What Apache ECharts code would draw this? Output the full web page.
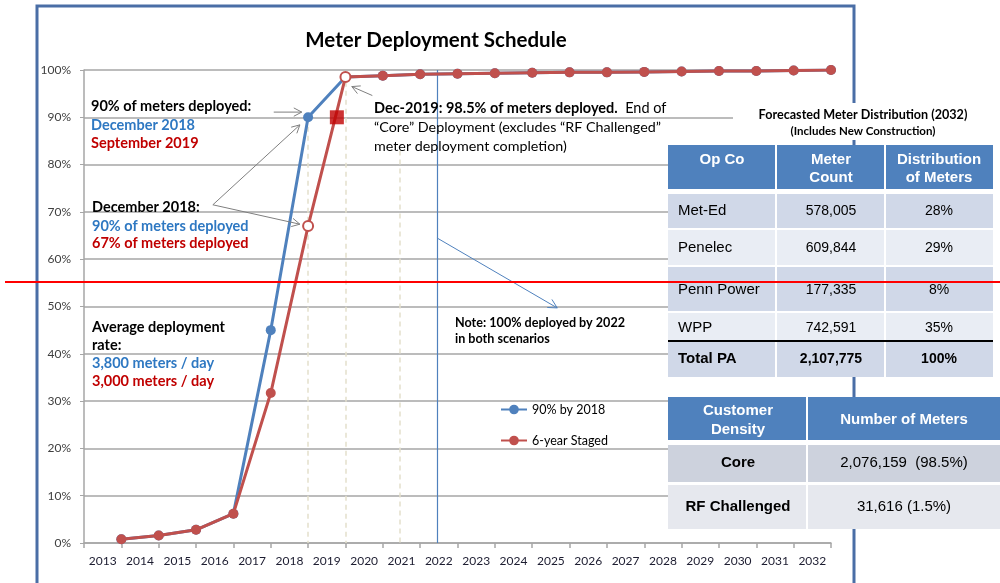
<!DOCTYPE html>
<html><head><meta charset="utf-8">
<script src="https://cdn.jsdelivr.net/npm/echarts@6/dist/echarts.min.js"></script>
<style>html,body{margin:0;padding:0;background:#fff}#c{width:1000px;height:583px}</style>
</head><body><div id="c"></div>
<script>
// ---------- data ----------
const yearLabels = ['2013','2014','2015','2016','2017','2018','2019','2020','2021','2022','2023','2024','2025','2026','2027','2028','2029','2030','2031','2032'];
const pointYears = [2013,2014,2015,2016,2017,2018,2019,2020,2021,2022,2023,2024,2025,2026,2027,2028,2029,2030,2031,2032]; // year-end points
const fast90by2018 = [0.8,1.6,2.8,6.2,45,90,98.5,98.8,99.1,99.2,99.3,99.4,99.5,99.5,99.6,99.7,99.8,99.8,99.9,100];
const staged6year  = [0.8,1.6,2.8,6.2,31.7,67,98.5,98.8,99.1,99.2,99.3,99.4,99.5,99.5,99.6,99.7,99.8,99.8,99.9,100];
const seriesNames = ['90% by 2018','6-year Staged'];
const hollowStagedIdx = [5,6];
const milestoneDate = 2019.77;  // September 2019
const milestoneValue = 90;
const yTickValues = [0,10,20,30,40,50,60,70,80,90,100];

const opCoHeaders = ['Op Co','Meter\nCount','Distribution\nof Meters'];
const opCos = ['Met-Ed','Penelec','Penn Power','WPP'];
const meterCounts = ['578,005','609,844','177,335','742,591'];
const meterShares = ['28%','29%','8%','35%'];
const totalRow = ['Total PA','2,107,775','100%'];
const densityHeaders = ['Customer\nDensity','Number of Meters'];
const densityNames = ['Core','RF Challenged'];
const densityValues = ['2,076,159  (98.5%)','31,616 (1.5%)'];

// ---------- helpers ----------
const BASE = 2013;
const toX = yr => yr - BASE;           // position on hidden value axis
const endOfYear = yr => toX(yr + 1);
const FONT = 'Lato, "Open Sans", sans-serif';
const TFONT = '"Liberation Sans", Arial, sans-serif';
const BLUE = '#4f81bd', RED = '#c0504d', TBLUE = '#2e78c2', TRED = '#c00000';

const chart = echarts.init(document.getElementById('c'), null, {renderer:'canvas'});

const blueData = pointYears.map((y,i)=>[endOfYear(y), fast90by2018[i]]);
const redData = pointYears.map((y,i)=>{
  const d = {value:[endOfYear(y), staged6year[i]]};
  if (hollowStagedIdx.includes(i)) d.itemStyle = {color:'#fff', borderColor:RED, borderWidth:2};
  return d;
});

const dashStyle = {color:'#e4dfcc', width:1.5, type:[5,4]};
chart.setOption({
  animation:false,
  grid:{left:84, right:169, top:70, bottom:40},
  xAxis:[
    {type:'category', data:yearLabels, boundaryGap:true,
     axisLine:{lineStyle:{color:'#a6a6a6', width:1.5}},
     axisTick:{show:true, length:5, interval:0, lineStyle:{color:'#a6a6a6', width:1.5}},
     axisLabel:{interval:0, margin:12, fontFamily:FONT, fontSize:12, color:'#1c1c30'},
     splitLine:{show:false}},
    {type:'value', min:0, max:20, show:false, position:'bottom'}
  ],
  yAxis:{type:'value', min:0, max:100, interval:10,
    axisLine:{show:true, lineStyle:{color:'#a6a6a6', width:1.5}},
    axisTick:{show:true, length:4, lineStyle:{color:'#a6a6a6'}},
    axisLabel:{formatter:v=>v+'%', margin:13, fontFamily:FONT, fontSize:12, color:'#404040'},
    splitLine:{lineStyle:{color:'#a6a6a6', width:1.5}}},
  legend:{data:seriesNames, orient:'vertical', left:500, top:403, padding:0, itemWidth:26, itemHeight:12, itemGap:18,
    textStyle:{fontFamily:FONT, fontSize:12.5, color:'#000'}},
  series:[
    {name:seriesNames[0], type:'line', xAxisIndex:1, data:blueData, symbol:'circle', symbolSize:10,
     lineStyle:{color:BLUE, width:3}, itemStyle:{color:BLUE}, z:3},
    {name:seriesNames[1], type:'line', xAxisIndex:1, data:redData, symbol:'circle', symbolSize:10,
     lineStyle:{color:RED, width:3}, itemStyle:{color:RED}, z:4},
    {name:'milestone', type:'scatter', xAxisIndex:1, data:[[toX(milestoneDate), milestoneValue]],
     symbol:'rect', symbolSize:14, itemStyle:{color:'#c00000'}, z:5,
     markLine:{silent:true, symbol:['none','none'], label:{show:false}, z:1,
       data:[
         [{coord:[endOfYear(2018),88], lineStyle:dashStyle},{coord:[endOfYear(2018),0]}],
         [{coord:[endOfYear(2019),97.5], lineStyle:dashStyle},{coord:[endOfYear(2019),0]}],
         [{coord:[toX(2021.45),83], lineStyle:dashStyle},{coord:[toX(2021.45),0]}],
         [{coord:[toX(2022.45),100], lineStyle:{color:BLUE, width:1.2, type:'solid'}},{coord:[toX(2022.45),0]}]
       ]}}
  ]
});

// ---------- annotations / tables ----------
const px = p => chart.convertToPixel({seriesIndex:0}, p);
const G = [];
function arrow(a, b, color, w, head, z) {
  const p0 = px(a), p1 = px(b);
  const dx=p1[0]-p0[0], dy=p1[1]-p0[1], L=Math.hypot(dx,dy), ux=dx/L, uy=dy/L;
  const an = Math.PI/6.5, c=Math.cos(an), s=Math.sin(an);
  const h1=[p1[0]-head*(ux*c-uy*s), p1[1]-head*(ux*s+uy*c)];
  const h2=[p1[0]-head*(ux*c+uy*s), p1[1]-head*(-ux*s+uy*c)];
  G.push({type:'polyline', shape:{points:[p0,p1]}, style:{stroke:color, lineWidth:w, fill:null}, z:z||50});
  G.push({type:'polyline', shape:{points:[h1,p1,h2]}, style:{stroke:color, lineWidth:w, fill:null}, z:z||50});
}
function txt(t, x, y, o) {
  o = o || {};
  G.push({type:'text', z:o.z||60, style:Object.assign({text:t, x:x, y:y, fill:o.color||'#000',
    fontFamily:o.family||FONT, fontSize:o.size||14, fontWeight:o.bold?'bold':'normal',
    align:o.align||'left', verticalAlign:'middle', textAlign:o.align||'left', textVerticalAlign:'middle'}, o.extra||{})});
}
function rect(x, y, w, h, fill, z, stroke, lw) {
  G.push({type:'rect', shape:{x:x, y:y, width:w, height:h}, z:z,
    style:{fill:fill, stroke:stroke||null, lineWidth:lw||0}});
}

// outer frame
G.push({type:'rect', shape:{x:37, y:6, width:817, height:620}, z:0, style:{fill:null, stroke:'#4a6ea6', lineWidth:3}});

// title
txt('Meter Deployment Schedule', 436, 40, {size:20.5, bold:true, align:'center'});

// left annotations
txt('90% of meters deployed:', 91, 106, {size:14.5, bold:true});
txt('December 2018', 91, 125, {size:14.5, bold:true, color:TBLUE});
txt('September 2019', 91, 143, {size:14.5, bold:true, color:TRED});
txt('December 2018:', 92, 207, {size:14.5, bold:true});
txt('90% of meters deployed', 92, 226, {size:14.5, bold:true, color:TBLUE});
txt('67% of meters deployed', 92, 243, {size:14.5, bold:true, color:TRED});
txt('Average deployment', 92, 327, {size:14.5, bold:true});
txt('rate:', 92, 345, {size:14.5, bold:true});
txt('3,800 meters / day', 92, 363, {size:14.5, bold:true, color:TBLUE});
txt('3,000 meters / day', 92, 381, {size:14.5, bold:true, color:TRED});

// Dec-2019 annotation
G.push({type:'text', z:60, style:{text:'{b|Dec-2019: 98.5% of meters deployed.}{n|  End of}', x:374, y:108,
  verticalAlign:'middle', textVerticalAlign:'middle',
  rich:{b:{fontFamily:FONT, fontSize:14.5, fontWeight:'bold', fill:'#000', color:'#000'},
        n:{fontFamily:FONT, fontSize:14.5, fill:'#000', color:'#000'}}}});
txt('\u201CCore\u201D Deployment (excludes \u201CRF Challenged\u201D', 374, 127, {size:14.3});
txt('meter deployment completion)', 374, 146, {size:14.3});

// note
txt('Note: 100% deployed by 2022', 455, 323, {size:12.6, bold:true});
txt('in both scenarios', 455, 339, {size:12.6, bold:true});

// arrows (data space)
const GREY = '#7f7f7f';
arrow([5.08,91.1],[5.83,91.1], GREY, 1, 9);
arrow([3.45,71.5],[5.78,88.4], GREY, 1, 9);
arrow([3.45,71.5],[5.78,67.4], GREY, 1, 9);
arrow([7.72,94.6],[7.17,96.5], GREY, 1, 9);
arrow([9.45,64.5],[12.67,49.7], BLUE, 1, 10);

// ---- table 1 ----
const TZ = 100;
rect(733, 103, 250, 37, '#fff', TZ-1);
txt('Forecasted Meter Distribution (2032)', 863, 115, {size:12.6, bold:true, align:'center', z:TZ+2});
txt('(Includes New Construction)', 863, 131, {size:11.5, bold:true, align:'center', z:TZ+2});
const c1 = [668,776,885,993];
const r1 = [[145,189],[194,228],[230,265],[267,311],[313,340],[342,377]];
rect(668, 145, 325, 232, '#fff', TZ);
const rowFills1 = ['#4f81bd','#d0d8e8','#e9edf4','#d0d8e8','#e9edf4','#d0d8e8'];
for (let r=0;r<r1.length;r++){
  for (let c=0;c<3;c++){
    const x0 = c1[c] + (c>0?1:0), x1 = c1[c+1] - (c<2?1:0);
    rect(x0, r1[r][0], x1-x0, r1[r][1]-r1[r][0], rowFills1[r], TZ+1);
  }
}
G.push({type:'line', shape:{x1:668,y1:341,x2:993,y2:341}, z:TZ+2, style:{stroke:'#000', lineWidth:2}});
const colCx1 = [722, 831, 939];
opCoHeaders.forEach((h,c)=>{
  const lines = h.split('\n');
  if (lines.length===1) txt(lines[0], colCx1[c], 160, {family:TFONT, size:15, bold:true, color:'#fff', align:'center', z:TZ+2});
  else lines.forEach((l,k)=>txt(l, colCx1[c], 160+k*18, {family:TFONT, size:15, bold:true, color:'#fff', align:'center', z:TZ+2}));
});
const rowCy1 = [211, 248, 290, 328];
opCos.forEach((n,i)=>{
  txt(n, 678, rowCy1[i], {family:TFONT, size:15, z:TZ+2});
  txt(meterCounts[i], colCx1[1], rowCy1[i], {family:TFONT, size:14, align:'center', z:TZ+2});
  txt(meterShares[i], colCx1[2], rowCy1[i], {family:TFONT, size:14, align:'center', z:TZ+2});
});
txt(totalRow[0], 678, 359, {family:TFONT, size:15, bold:true, z:TZ+2});
txt(totalRow[1], colCx1[1], 359, {family:TFONT, size:14, bold:true, align:'center', z:TZ+2});
txt(totalRow[2], colCx1[2], 359, {family:TFONT, size:14, bold:true, align:'center', z:TZ+2});

// ---- table 2 ----
const c2 = [668,807,1000];
const r2 = [[397,440],[445,482],[485,529]];
const rowFills2 = ['#4f81bd','#cdd2dd','#e6e8ee'];
rect(668, 397, 332, 132, '#fff', TZ);
for (let r=0;r<r2.length;r++){
  for (let c=0;c<2;c++){
    const x0 = c2[c] + (c>0?1:0), x1 = c2[c+1] - (c<1?1:0);
    rect(x0, r2[r][0], x1-x0, r2[r][1]-r2[r][0], rowFills2[r], TZ+1);
  }
}
const colCx2 = [738, 904];
densityHeaders[0].split('\n').forEach((l,k)=>txt(l, colCx2[0], 411+k*19, {family:TFONT, size:15, bold:true, color:'#fff', align:'center', z:TZ+2}));
txt(densityHeaders[1], colCx2[1], 420, {family:TFONT, size:15, bold:true, color:'#fff', align:'center', z:TZ+2});
const rowCy2 = [463, 507];
densityNames.forEach((n,i)=>{
  txt(n, colCx2[0], rowCy2[i], {family:TFONT, size:15, bold:true, align:'center', z:TZ+2});
  txt(densityValues[i], colCx2[1], rowCy2[i], {family:TFONT, size:15, align:'center', z:TZ+2});
});

// red horizontal line
G.push({type:'line', shape:{x1:5,y1:282,x2:1000,y2:282}, z:300, style:{stroke:'#ff0000', lineWidth:2}});

chart.setOption({graphic:{elements:G}});
</script></body></html>
